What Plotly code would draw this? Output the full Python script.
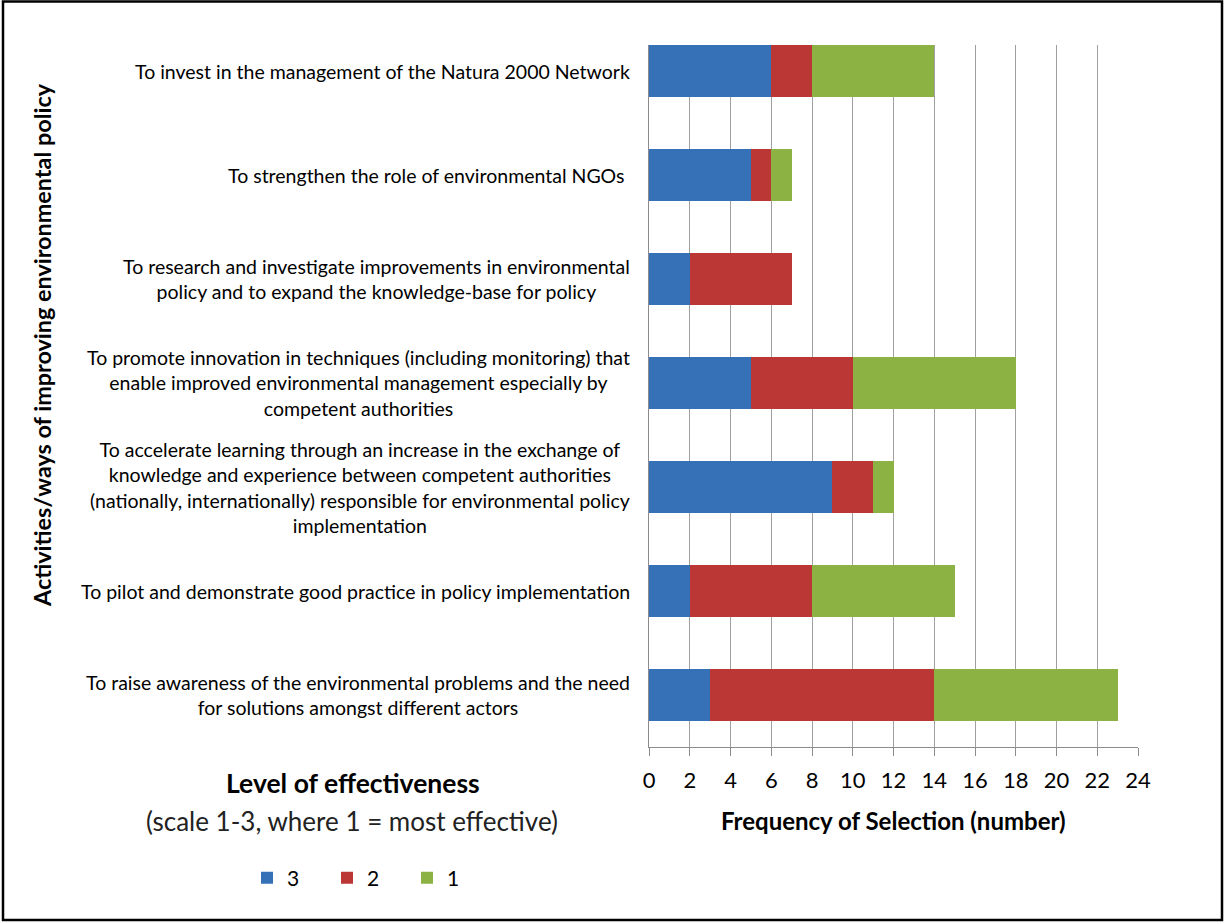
import plotly.graph_objects as go

categories = [
    "To invest in the management of the Natura 2000 Network",
    "To strengthen the role of environmental NGOs ",
    "To research and investigate improvements in environmental<br>policy and to expand the knowledge-base for policy",
    "To promote innovation in techniques (including monitoring) that<br>enable improved environmental management especially by<br>competent authorities",
    "To accelerate learning through an increase in the exchange of<br>knowledge and experience between competent authorities<br>(nationally, internationally) responsible for environmental policy<br>implementation",
    "To pilot and demonstrate good practice in policy implementation",
    "To raise awareness of the environmental problems and the need<br>for solutions amongst different actors",
]
level3 = [6, 5, 2, 5, 9, 2, 3]
level2 = [2, 1, 5, 5, 2, 6, 11]
level1 = [6, 1, 0, 8, 1, 7, 9]
series_names = ["3", "2", "1"]
series_values = [level3, level2, level1]
series_colors = ["#3671B8", "#BA3735", "#8BB243"]
x_ticks = list(range(0, 25, 2))

W, H = 1224, 922
L, R, T, B = 649, 1224 - 1138, 45, 922 - 747
pw, ph = W - L - R, H - T - B

def px_x(x):
    return (x - L) / pw

def px_y(y):
    return (H - B - y) / ph

FONT = "Lato"

fig = go.Figure()
for name, vals, col in zip(series_names, series_values, series_colors):
    fig.add_trace(go.Bar(
        y=categories, x=vals, name=name, orientation="h",
        marker=dict(color=col, line=dict(width=0)),
        width=0.5,
    ))

annotations = []
for cat in categories:
    annotations.append(dict(
        xref="paper", x=0, xshift=-17, xanchor="right",
        yref="y", y=cat, yanchor="middle",
        text=cat, showarrow=False, align="center",
        font=dict(family=FONT, size=19.5, color="#000000"),
    ))

annotations += [
    dict(xref="paper", x=px_x(42), yref="paper", y=px_y(345),
         text="<b>Activities/ways of improving environmental policy</b>",
         textangle=-90, showarrow=False, xanchor="center", yanchor="middle",
         font=dict(family=FONT, size=23.4, color="#000000")),
    dict(xref="paper", x=px_x(893), yref="paper", y=px_y(820),
         text="<b>Frequency of Selection (number)</b>",
         showarrow=False, xanchor="center", yanchor="middle",
         font=dict(family=FONT, size=24, color="#000000")),
    dict(xref="paper", x=px_x(353), yref="paper", y=px_y(783),
         text="<b>Level of effectiveness</b>",
         showarrow=False, xanchor="center", yanchor="middle",
         font=dict(family=FONT, size=26.5, color="#000000")),
    dict(xref="paper", x=px_x(352), yref="paper", y=px_y(821),
         text="(scale 1-3, where 1 = most effective)",
         showarrow=False, xanchor="center", yanchor="middle",
         font=dict(family=FONT, size=26, color="#222222")),
]

fig.update_layout(
    width=W, height=H,
    margin=dict(l=L, r=R, t=T, b=B, pad=0),
    barmode="stack",
    paper_bgcolor="white", plot_bgcolor="white",
    font=dict(family=FONT, color="#000000"),
    annotations=annotations,
    showlegend=True,
    legend=dict(
        orientation="h", x=px_x(247), y=px_y(878), xanchor="left", yanchor="middle",
        font=dict(family=FONT, size=21, color="#000000"),
        entrywidth=35, entrywidthmode="pixels", itemwidth=30,
        bgcolor="rgba(0,0,0,0)",
        traceorder="normal",
    ),
    xaxis=dict(
        range=[0, 24], tickvals=x_ticks, showgrid=True, gridcolor="#A0A0A0", gridwidth=1.2,
        showline=True, linecolor="#8C8C8C", linewidth=1.2,
        ticks="outside", ticklen=8, tickcolor="#8C8C8C", tickwidth=1.2,
        tickfont=dict(family=FONT, size=22, color="#000000"),
        ticklabelstandoff=5, zeroline=False, fixedrange=True,
    ),
    yaxis=dict(
        type="category", range=[6.5, -0.25], showticklabels=False,
        showline=True, linecolor="#8C8C8C", linewidth=1.2,
        showgrid=False, ticks="", fixedrange=True,
    ),
    shapes=[dict(type="rect", xref="paper", yref="paper",
                 x0=px_x(3), x1=px_x(1222), y0=px_y(920), y1=px_y(1.5),
                 line=dict(color="#000000", width=2.5), layer="above")],
)

fig.write_html(
    "out.html",
    config={"displayModeBar": False},
    post_script="document.body.style.margin='0';document.body.style.overflow='hidden';",
)
